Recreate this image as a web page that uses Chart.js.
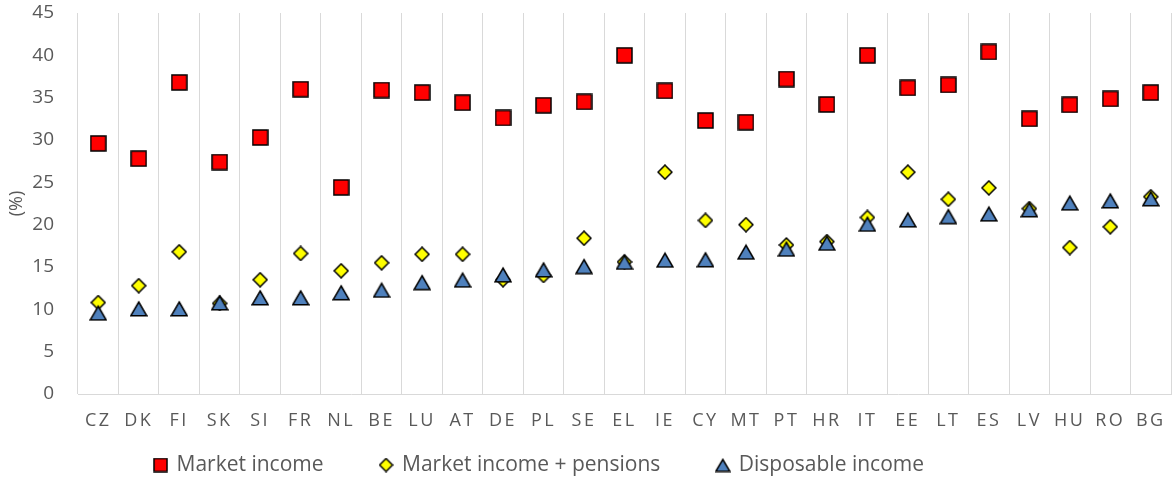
<!DOCTYPE html>
<html>
<head>
<meta charset="utf-8">
<script src="https://cdn.jsdelivr.net/npm/chart.js@4.4.1/dist/chart.umd.min.js"></script>
<style>
html,body{margin:0;padding:0;background:#fff;}
#c{display:block;}
</style>
</head>
<body>
<canvas id="c" width="1176" height="477"></canvas>
<script>
const categories = ['CZ','DK','FI','SK','SI','FR','NL','BE','LU','AT','DE','PL','SE','EL','IE','CY','MT','PT','HR','IT','EE','LT','ES','LV','HU','RO','BG'];
const marketIncome = [29.6, 27.8, 36.8, 27.4, 30.3, 36.0, 24.4, 35.9, 35.6, 34.4, 32.6, 34.1, 34.5, 40.0, 35.8, 32.3, 32.1, 37.2, 34.2, 40.0, 36.15, 36.5, 40.4, 32.5, 34.15, 34.85, 35.6];
const marketIncomePensions = [10.8, 12.8, 16.8, 10.7, 13.5, 16.6, 14.55, 15.5, 16.5, 16.5, 13.5, 14.0, 18.4, 15.6, 26.2, 20.5, 20.0, 17.6, 18.0, 20.85, 26.2, 23.0, 24.35, 21.9, 17.3, 19.75, 23.3];
const disposableIncome = [9.6, 10.1, 10.1, 10.8, 11.4, 11.4, 12.0, 12.3, 13.2, 13.5, 14.1, 14.7, 15.1, 15.6, 15.85, 15.9, 16.8, 17.15, 17.85, 20.1, 20.6, 21.0, 21.3, 21.8, 22.6, 22.85, 23.1];
const seriesNames = ['Market income', 'Market income + pensions', 'Disposable income'];
const yMin = 0, yMax = 45, yStep = 5;

function marker(shape, w, h, fill) {
  const c = document.createElement('canvas');
  c.width = w; c.height = h;
  const g = c.getContext('2d');
  g.fillStyle = fill; g.strokeStyle = '#000'; g.lineWidth = 1.5; g.lineJoin = 'miter';
  g.beginPath();
  if (shape === 'square') {
    g.rect(1, 1, w - 2, h - 2);
  } else if (shape === 'diamond') {
    g.moveTo(w / 2, 1); g.lineTo(w - 1, h / 2); g.lineTo(w / 2, h - 1); g.lineTo(1, h / 2); g.closePath();
  } else {
    g.moveTo(w / 2, 2); g.lineTo(w - 1, h - 1.2); g.lineTo(1, h - 1.2); g.closePath();
  }
  g.fill(); g.stroke();
  return c;
}
const RED = '#FF0000', YEL = '#FFFF00', BLUE = '#4F81BD';
const dataMarkers = [marker('square', 17, 17, RED), marker('diamond', 16, 16, YEL), marker('triangle', 18, 17, BLUE)];
const legendMarkers = [marker('square', 15, 15, RED), marker('diamond', 15, 15, YEL), marker('triangle', 16, 15, BLUE)];

const TXT = '#595959';
const FONT = 'Open Sans';

const tweaks = {
  id: 'tweaks',
  afterLayout(chart) {
    const lg = chart.legend;
    if (lg) { lg.left = 0; lg.right = 1079; }
    const xs = chart.scales.x;
    if (xs && !xs._lsPatched) {
      const orig = xs.drawLabels;
      xs._computeLabelArea = function () { return undefined; };
      xs.drawLabels = function (area) {
        this.ctx.save();
        this.ctx.letterSpacing = '2.5px';
        orig.call(this, area);
        this.ctx.restore();
      };
      xs._lsPatched = true;
    }
  }
};

new Chart(document.getElementById('c'), {
  type: 'line',
  data: {
    labels: categories,
    datasets: [
      { label: seriesNames[0], data: marketIncome, pointStyle: dataMarkers[0], showLine: false, order: 2, borderColor: '#000', backgroundColor: RED },
      { label: seriesNames[1], data: marketIncomePensions, pointStyle: dataMarkers[1], showLine: false, order: 1, borderColor: '#000', backgroundColor: YEL },
      { label: seriesNames[2], data: disposableIncome, pointStyle: dataMarkers[2], showLine: false, order: 0, borderColor: '#000', backgroundColor: BLUE }
    ]
  },
  options: {
    responsive: false,
    devicePixelRatio: 1,
    animation: false,
    layout: { padding: { top: 13, right: 3, left: 0, bottom: 0 } },
    plugins: {
      tooltip: { enabled: false },
      legend: {
        position: 'bottom',
        maxHeight: 79.5,
        labels: {
          usePointStyle: true,
          boxWidth: 11,
          boxHeight: 14,
          padding: 57,
          color: TXT,
          font: { family: FONT, size: 21 },
          sort: (a, b) => a.datasetIndex - b.datasetIndex,
          generateLabels: (chart) => Chart.defaults.plugins.legend.labels.generateLabels(chart)
            .map(it => Object.assign({}, it, { pointStyle: legendMarkers[it.datasetIndex] }))
        }
      }
    },
    scales: {
      x: {
        type: 'category',
        offset: true,
        grid: { display: true, offset: true, color: '#D9D9D9', lineWidth: 1, drawTicks: false },
        border: { display: true, color: '#D9D9D9', width: 1 },
        ticks: { padding: 16, color: TXT, font: { family: FONT, size: 18 }, maxRotation: 0, autoSkip: false },
        afterFit: s => { s.height = 3.5; s.paddingLeft = 0; s.paddingRight = 0; }
      },
      y: {
        min: yMin, max: yMax,
        ticks: { stepSize: yStep, padding: 24, color: TXT, font: { family: FONT, size: 19 } },
        grid: { display: false, drawTicks: false },
        border: { display: false },
        title: { display: true, text: '(%)', color: TXT, font: { family: FONT, size: 18 }, padding: { top: 6, bottom: 0 } },
        afterFit: s => { s.width = 78; s.paddingTop = 11; s.paddingBottom = 0; }
      }
    }
  },
  plugins: [tweaks]
});
</script>
</body>
</html>
